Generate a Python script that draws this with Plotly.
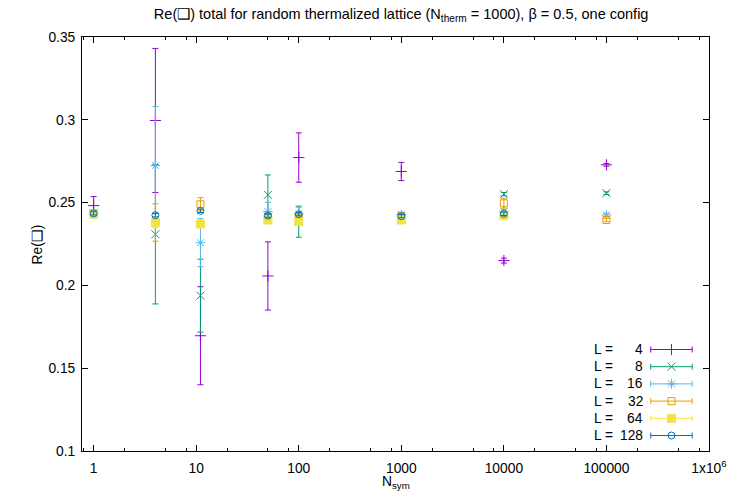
import plotly.graph_objects as go

# N_sym values and Re(plaquette) measurements with errors, per lattice size L
n_sym_all = [1, 4, 11, 50, 100, 1000, 10000, 100000]
n_sym_short = [1, 4, 11, 50, 100, 1000, 10000]

L4_y = [0.2482, 0.2996, 0.1696, 0.2057, 0.2772, 0.2688, 0.2150, 0.2728]
L4_err = [0.0054, 0.0435, 0.0296, 0.0206, 0.0149, 0.0055, 0.0015, 0.0008]

L8_y = [0.2435, 0.2309, 0.1938, 0.2547, 0.2385, 0.2398, 0.2551, 0.2557]
L8_err = [0.0010, 0.0421, 0.0220, 0.0120, 0.0094, 0.0010, 0.0010, 0.0008]

L16_y = [0.2430, 0.2724, 0.2258, 0.2446, 0.2432, 0.2428, 0.2445, 0.2425]
L16_err = [0.0010, 0.0356, 0.0145, 0.0056, 0.0040, 0.0010, 0.0010, 0.0010]

L32_y = [0.2435, 0.2380, 0.2490, 0.2415, 0.2410, 0.2420, 0.2496, 0.2395]
L32_err = [0.0010, 0.0113, 0.0040, 0.0020, 0.0020, 0.0010, 0.0030, 0.0010]

L64_y = [0.2430, 0.2379, 0.2371, 0.2395, 0.2389, 0.2395, 0.2420]
L64_err = [0.0010, 0.0030, 0.0020, 0.0020, 0.0020, 0.0010, 0.0010]

L128_y = [0.2435, 0.2424, 0.2450, 0.2421, 0.2430, 0.2418, 0.2432]
L128_err = [0.0010, 0.0010, 0.0010, 0.0010, 0.0010, 0.0010, 0.0010]

series = [
    ("4", n_sym_all, L4_y, L4_err, "#9400d3", "cross-thin-open", 8),
    ("8", n_sym_all, L8_y, L8_err, "#009e73", "x-thin-open", 8),
    ("16", n_sym_all, L16_y, L16_err, "#56b4e9", "asterisk-open", 8),
    ("32", n_sym_all, L32_y, L32_err, "#e69f00", "square-open", 7),
    ("64", n_sym_short, L64_y, L64_err, "#f0e442", "square", 8),
    ("128", n_sym_short, L128_y, L128_err, "#0072b2", "circle-open", 7),
]

x_tick_vals = [1, 10, 100, 1000, 10000, 100000, 1000000]
x_tick_text = ["1", "10", "100", "1000", "10000", "100000", "1x10<sup>6</sup>"]
x_minor_vals = [m * 10 ** k for k in range(-1, 6) for m in (2, 5, 8)]
y_tick_vals = [0.1, 0.15, 0.2, 0.25, 0.3, 0.35]
y_tick_text = ["0.1", "0.15", "0.2", "0.25", "0.3", "0.35"]

FONT = "Liberation Sans, Arial, sans-serif"
FS = 13.8

fig = go.Figure()

for name, xs, ys, errs, color, symbol, size in series:
    fig.add_trace(go.Scatter(
        x=xs, y=ys, mode="markers", showlegend=False,
        marker=dict(symbol=symbol, size=size, color=color,
                    line=dict(color=color, width=1)),
        error_y=dict(type="data", array=errs, visible=True,
                     color=color, thickness=1, width=3),
    ))

# key drawn gnuplot-style: label on the left, error-bar sample on the right
key_top = 349.5
key_step = 17.2
annotations = []
for i, (name, xs, ys, errs, color, symbol, size) in enumerate(series):
    yk = key_top + i * key_step
    fig.add_trace(go.Scatter(
        x=[679], y=[yk], xaxis="x2", yaxis="y2", mode="markers",
        showlegend=False, hoverinfo="skip",
        marker=dict(symbol=symbol, size=size, color=color,
                    line=dict(color=color, width=1)),
        error_x=dict(type="constant", value=21, visible=True,
                     color=color, thickness=1, width=3),
    ))
    annotations.append(dict(x=599, y=yk, xref="x2", yref="y2", text="L =",
                            showarrow=False, xanchor="left", yanchor="middle",
                            font=dict(family=FONT, size=FS, color="black")))
    annotations.append(dict(x=652, y=yk, xref="x2", yref="y2", text=name,
                            showarrow=False, xanchor="right", yanchor="middle",
                            font=dict(family=FONT, size=FS, color="black")))

annotations.append(dict(
    x=-0.071, y=0.5, xref="paper", yref="paper", text="Re(\u2751)",
    textangle=-90, showarrow=False, xanchor="center", yanchor="middle",
    font=dict(family=FONT, size=FS, color="black")))
annotations.append(dict(
    x=0.5, y=-0.075, xref="paper", yref="paper", text="N<sub>sym</sub>",
    showarrow=False, xanchor="center", yanchor="middle",
    font=dict(family=FONT, size=FS, color="black")))

axis_common = dict(showline=True, linecolor="black", linewidth=1, mirror="ticks",
                   ticks="inside", tickcolor="black", showgrid=False, zeroline=False,
                   tickfont=dict(family=FONT, size=FS, color="black"))

fig.update_layout(
    width=739, height=497,
    margin=dict(l=82, r=22, t=37, b=46),
    paper_bgcolor="white", plot_bgcolor="white",
    title=dict(text="Re(\u2751) total for random thermalized lattice (N<sub>therm</sub> = 1000), \u03b2 = 0.5, one config",
               x=0.509, xref="paper", xanchor="center",
               y=0.972, yref="container", yanchor="middle",
               font=dict(family=FONT, size=14.5, color="black")),
    xaxis=dict(type="log", range=[-0.1135, 6], tickmode="array",
               tickvals=x_tick_vals, ticktext=x_tick_text, ticklen=6,
               ticklabelstandoff=4,
               minor=dict(tickmode="array", tickvals=x_minor_vals, ticks="inside",
                          ticklen=3, tickcolor="black"),
               **axis_common),
    yaxis=dict(range=[0.1, 0.35], tickmode="array", tickvals=y_tick_vals,
               ticktext=y_tick_text, ticklen=6, ticklabelstandoff=3,
               **axis_common),
    xaxis2=dict(range=[82, 717], overlaying="x", visible=False, anchor="y2"),
    yaxis2=dict(range=[451, 37], overlaying="y", visible=False, anchor="x2"),
    annotations=annotations,
)

fig.write_html("out.html")
